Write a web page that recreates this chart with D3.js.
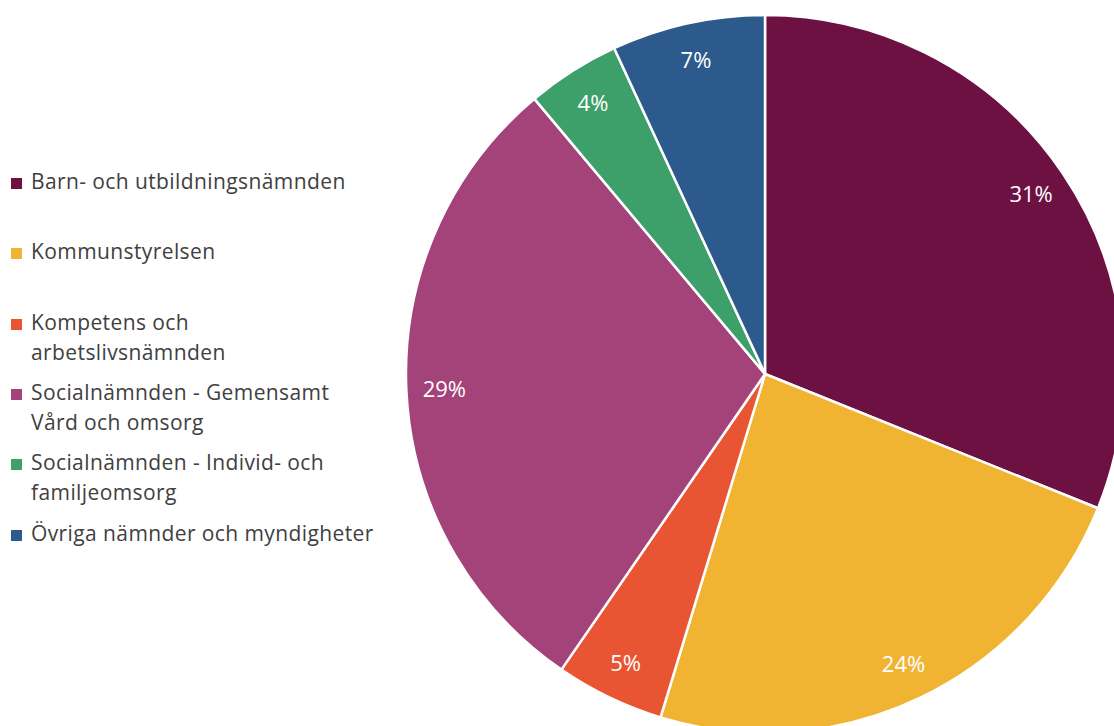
<!DOCTYPE html>
<html>
<head>
<meta charset="utf-8">
<script src="https://cdn.jsdelivr.net/npm/d3@7"></script>
<style>
  html, body { margin: 0; padding: 0; background: #fff; overflow: hidden; }
  text { font-family: "Open Sans", "Noto Sans", sans-serif; }
</style>
</head>
<body>
<div id="chart"></div>
<script>
// data
const categories = [
  ['Barn- och utbildningsnämnden'],
  ['Kommunstyrelsen'],
  ['Kompetens och', 'arbetslivsnämnden'],
  ['Socialnämnden - Gemensamt', 'Vård och omsorg'],
  ['Socialnämnden - Individ- och', 'familjeomsorg'],
  ['Övriga nämnder och myndigheter']
];
const values = [31.1, 23.6, 4.9, 29.3, 4.2, 6.9];
const colors = ['#6C1142', '#F0B432', '#E95532', '#A4427A', '#3DA06A', '#2D5A8C'];

const width = 1114, height = 726;
const cx = 765, cy = 374, radius = 359, labelRadius = 321;

const svg = d3.select('#chart')
  .append('svg')
  .attr('width', width)
  .attr('height', height);

const pie = d3.pie().sort(null).value(d => d);
const arcs = pie(values);
const arc = d3.arc().innerRadius(0).outerRadius(radius);
const labelArc = d3.arc().innerRadius(labelRadius).outerRadius(labelRadius);

const g = svg.append('g')
  .attr('transform', `translate(${cx},${cy})`);

g.selectAll('path')
  .data(arcs)
  .join('path')
  .attr('d', arc)
  .attr('fill', (d, i) => colors[i])
  .attr('stroke', '#fff')
  .attr('stroke-width', 2.5)
  .attr('stroke-linejoin', 'round');

g.selectAll('.slice-label')
  .data(arcs)
  .join('text')
  .attr('class', 'slice-label')
  .attr('transform', d => `translate(${labelArc.centroid(d)})`)
  .attr('text-anchor', 'middle')
  .attr('dy', '0.36em')
  .attr('fill', '#fff')
  .style('font-size', '22px')
  .text(d => Math.round(d.data) + '%');

// legend
const legendY = [183, 253, 324, 394, 464, 535];
const legend = svg.selectAll('.legend')
  .data(categories)
  .join('g')
  .attr('class', 'legend')
  .attr('transform', (d, i) => `translate(11,${legendY[i]})`);

legend.append('rect')
  .attr('x', 0)
  .attr('y', -5)
  .attr('width', 11)
  .attr('height', 11)
  .attr('fill', (d, i) => colors[i]);

legend.append('text')
  .attr('x', 20)
  .attr('fill', '#404040')
  .style('font-size', '21px')
  .style('letter-spacing', '0.4px')
  .selectAll('tspan')
  .data(d => d)
  .join('tspan')
  .attr('x', 20)
  .attr('y', (d, i) => i * 30)
  .attr('dy', '0.3em')
  .text(d => d);
</script>
</body>
</html>
